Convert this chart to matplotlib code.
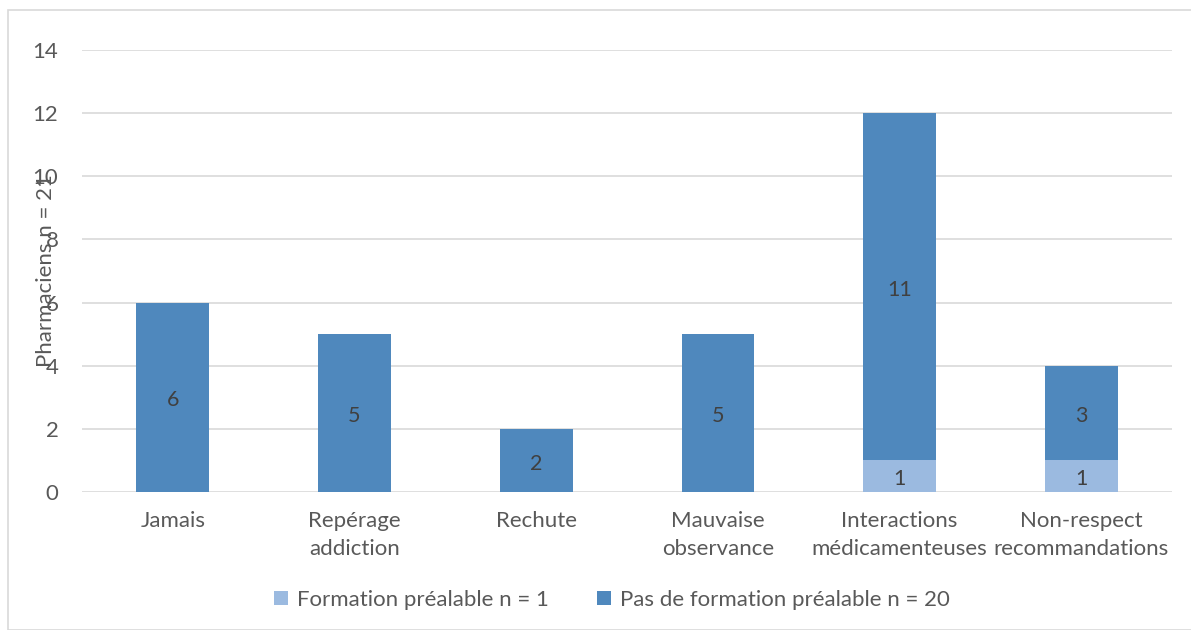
import matplotlib.pyplot as plt
import matplotlib.patches as mpatches
import numpy as np

plt.rcParams['font.family'] = ['Lato', 'DejaVu Sans']

categories = ['Jamais', 'Repérage\naddiction', 'Rechute', 'Mauvaise\nobservance',
              'Interactions\nmédicamenteuses', 'Non-respect\nrecommandations']
formation = [0, 0, 0, 0, 1, 1]
pas_formation = [6, 5, 2, 5, 11, 3]
yticks = [0, 2, 4, 6, 8, 10, 12, 14]

c_light = '#9BBAE0'
c_dark = '#4F88BD'
txt = '#595959'

fig = plt.figure(figsize=(11.91, 6.3), dpi=100)
ax = fig.add_axes([82/1191, 138/630, 1090/1191, 442/630])

x = np.arange(len(categories))
b1 = ax.bar(x, formation, width=0.4, color=c_light, label='Formation préalable n = 1', zorder=3)
b2 = ax.bar(x, pas_formation, width=0.4, bottom=formation, color=c_dark,
            label='Pas de formation préalable n = 20', zorder=3)

# etiquettes dans les barres
for i in range(len(x)):
    if formation[i] > 0:
        ax.text(x[i], formation[i]/2 - 0.1, str(formation[i]), ha='center', va='center',
                fontsize=15.5, color='#404040', zorder=4)
    if pas_formation[i] > 0:
        ax.text(x[i], formation[i] + pas_formation[i]/2 - 0.1, str(pas_formation[i]),
                ha='center', va='center', fontsize=15.5, color='#404040', zorder=4)

ax.set_xlim(-0.5, len(categories) - 0.5)
ax.set_ylim(0, 14)
ax.set_yticks(yticks)
ax.set_xticks(x)
ax.set_xticklabels(categories, fontsize=16, color=txt, linespacing=1.45)
ax.tick_params(axis='y', labelsize=16, labelcolor=txt, length=0, pad=17)
ax.tick_params(axis='x', length=0, pad=14)
ax.grid(axis='y', color='#D9D9D9', linewidth=1.2, zorder=0)
for s in ax.spines.values():
    s.set_visible(False)

ax.set_ylabel('Pharmaciens n = 21', fontsize=16, color=txt, va='center')
ax.yaxis.set_label_coords((46 - 82)/1090, 0.5)

leg = fig.legend(handles=[b1, b2], loc='center', bbox_to_anchor=(612/1191, 30/630), ncol=2,
                 frameon=False, fontsize=16, handlelength=0.6, handleheight=0.6,
                 handletextpad=0.4, columnspacing=2.2, labelcolor=txt)

fig.patches.append(mpatches.Rectangle((8/1191, 0), 1.1, 620/630, transform=fig.transFigure,
                                      fill=False, edgecolor='#D9D9D9', linewidth=1.2))

fig.savefig('out.png', dpi=100)
